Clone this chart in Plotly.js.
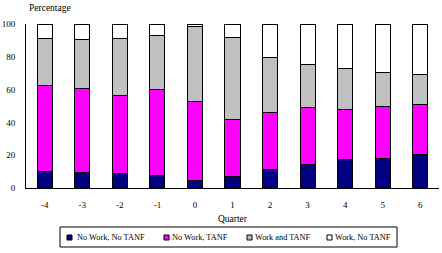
<!DOCTYPE html>
<html><head><meta charset="utf-8">
<script src="https://cdn.plot.ly/plotly-3.0.1.min.js"></script>
<style>html,body{margin:0;padding:0;background:#fff}#chart{width:442px;height:253px}</style>
</head><body><div id="chart"></div>
<script>
var quarters = ["-4","-3","-2","-1","0","1","2","3","4","5","6"];
var noWorkNoTANF = [10.2, 9.6, 9.0, 7.8, 4.7, 7.0, 11.2, 14.3, 17.3, 17.9, 20.4];
var noWorkTANF   = [52.4, 50.9, 47.4, 52.3, 48.1, 34.8, 34.8, 34.8, 30.6, 31.6, 30.5];
var workAndTANF  = [28.7, 30.1, 34.9, 33.0, 45.8, 50.1, 33.6, 26.3, 25.0, 21.0, 18.4];
var workNoTANF   = [8.7, 9.4, 8.7, 6.9, 1.4, 8.1, 20.4, 24.6, 27.1, 29.5, 30.7];
var seriesNames  = ["No Work, No TANF", "No Work, TANF", "Work and TANF", "Work, No TANF"];
var seriesColors = ["#000080", "#FF00FF", "#C0C0C0", "#FFFFFF"];
var yTicks = [0, 20, 40, 60, 80, 100];

var vals = [noWorkNoTANF, noWorkTANF, workAndTANF, workNoTANF];
var traces = vals.map(function(v, i){
  return {type:'bar', x:quarters, y:v, name:seriesNames[i],
    marker:{color:seriesColors[i], line:{color:'#000', width:1}},
    hoverinfo:'x+y+name', showlegend:false};
});

var SERIF = 'Liberation Serif, Times New Roman, serif';
// manual legend (paper coords from pixel positions)
var L = 26, R = 439, T = 24, B = 188;
function px(x){ return (x - L)/(R - L); }
function py(y){ return (B - y)/(B - T); }
var shapes = [{type:'rect', xref:'paper', yref:'paper', x0:px(60), x1:px(397), y0:py(247), y1:py(227), line:{color:'#000', width:1}, fillcolor:'rgba(0,0,0,0)'}];
var annotations = [
  {text:'Percentage', xref:'paper', yref:'paper', x:px(27), y:py(8), xanchor:'left', yanchor:'middle', showarrow:false, font:{family:SERIF, size:9.5, color:'#000'}}
];
var symX = [67, 164, 247, 327];
var txtX = [75, 170, 253, 333];
for (var i = 0; i < 4; i++) {
  shapes.push({type:'rect', xref:'paper', yref:'paper', x0:px(symX[i]), x1:px(symX[i]+5), y0:py(240), y1:py(235), line:{color:'#000', width:1}, fillcolor:seriesColors[i]});
  annotations.push({text:seriesNames[i], xref:'paper', yref:'paper', x:px(txtX[i]), y:py(237.5), xanchor:'left', yanchor:'middle', showarrow:false, font:{family:SERIF, size:8.3, color:'#000'}});
}

var layout = {
  width:442, height:253,
  margin:{l:L, r:442-R, t:T, b:253-B},
  paper_bgcolor:'#fff', plot_bgcolor:'#fff',
  barmode:'stack', bargap:0.6,
  showlegend:false,
  xaxis:{type:'category', showline:true, linecolor:'#000', linewidth:1, ticks:'', showgrid:false, zeroline:false,
    tickfont:{family:SERIF, size:9, color:'#000'}, ticklabelstandoff:8,
    title:{text:'Quarter', font:{family:SERIF, size:9.5, color:'#000'}, standoff:6}},
  yaxis:{range:[0,100], tickvals:yTicks, ticktext:yTicks.map(String), showline:true, linecolor:'#000', linewidth:1, ticks:'', showgrid:false, zeroline:false,
    tickfont:{family:SERIF, size:9, color:'#000'}, ticklabelstandoff:8},
  shapes:shapes, annotations:annotations
};
Plotly.newPlot('chart', traces, layout, {staticPlot:true, displayModeBar:false});
</script></body></html>
